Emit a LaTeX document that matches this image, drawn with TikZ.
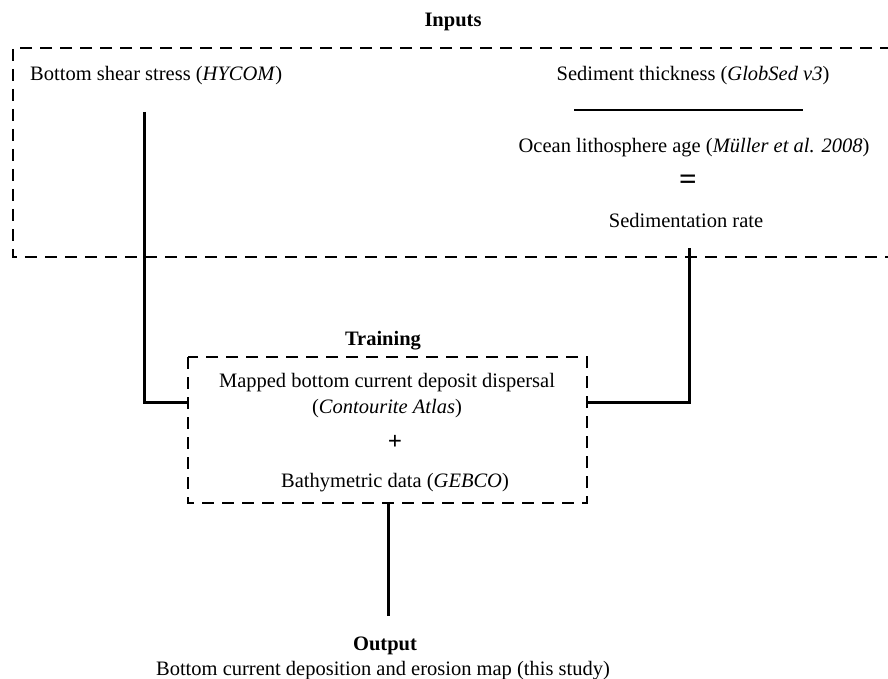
\documentclass[tikz,border=0pt]{standalone}
\usepackage{fontspec}
\setmainfont{Liberation Serif}
\begin{document}
\begin{tikzpicture}[x=1pt,y=-1pt,
  txt/.style={font=\fontsize{20.5}{24}\selectfont, inner sep=0pt},
  dbox/.style={draw, line width=2pt, dash pattern=on 12pt off 8pt},
  conn/.style={line width=3pt}]
\useasboundingbox (0,0) rectangle (888,679);
% Inputs box
\draw[dbox] (892,48) -- (13,48) -- (13,257) -- (892,257);
\node[txt, anchor=base] (inputs) at (453,27) {\textbf{Inputs}};
\node[txt, anchor=base west] (shear) at (30,81) {Bottom shear stress (\textit{HYCOM})};
\node[txt, anchor=base] (sedthick) at (693,81) {Sediment thickness (\textit{GlobSed v3})};
\coordinate (fracL) at (574,110);
\coordinate (fracR) at (803,110);
\draw[line width=1.8pt] (fracL) -- (fracR);
\node[txt, anchor=base] (age) at (694,153) {Ocean lithosphere age (\textit{Müller et al. 2008})};
\node[txt, font=\fontsize{31}{36}\selectfont\bfseries, anchor=center] (eq) at (688,182) {=};
\node[txt, anchor=base] (rate) at (686,227) {Sedimentation rate};
% Training box
\node[txt, anchor=base] (traininglbl) at (383,345) {\textbf{Training}};
\draw[dbox] (188,357) rectangle (587,503);
\coordinate (trainW) at (188,402);
\coordinate (trainE) at (587,402);
\coordinate (trainS) at (388,503);
\node[txt, anchor=base] (mapped) at (387,387) {Mapped bottom current deposit dispersal};
\node[txt, anchor=base] (atlas) at (387,413) {(\textit{Contourite Atlas})};
\node[txt, font=\fontsize{25}{30}\selectfont\bfseries, anchor=center] (plus) at (395,442) {+};
\node[txt, anchor=base] (gebco) at (395,487) {Bathymetric data (\textit{GEBCO})};
% connectors
\coordinate (lstart) at (144,112);
\coordinate (rstart) at (689,248);
\draw[conn] (lstart) |- (trainW);
\draw[conn] (rstart) |- (trainE);
\coordinate (outend) at (388,616);
\draw[conn] (trainS) -- (outend);
% Output
\node[txt, anchor=base] (output) at (385,650) {\textbf{Output}};
\node[txt, anchor=base] (outtext) at (383,675) {Bottom current deposition and erosion map (this study)};
\end{tikzpicture}
\end{document}
